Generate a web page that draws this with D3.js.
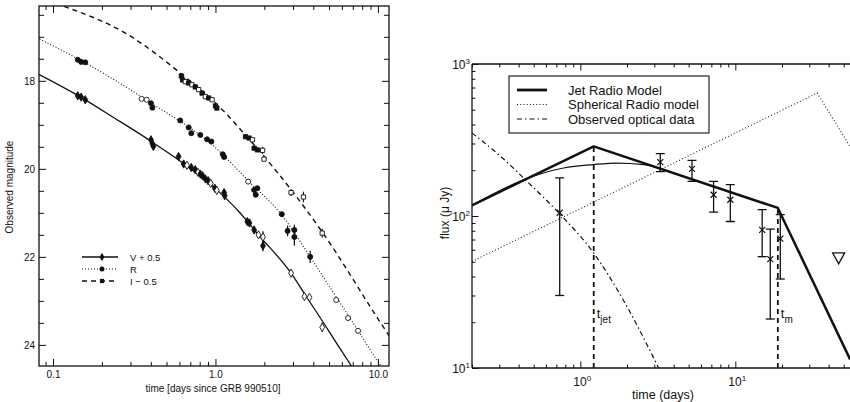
<!DOCTYPE html>
<html>
<head>
<meta charset="utf-8">
<title>GRB 990510 light curves</title>
<script src="https://d3js.org/d3.v7.min.js"></script>
<style>
  body { margin: 0; background: #fff; }
  svg { font-family: "Liberation Sans", Arial, Helvetica, sans-serif; }
  .frame { fill: none; stroke: #111; stroke-width: 1.3px; }
  .tick line { stroke: #111; stroke-width: 1px; }
  .tick text { fill: #111; }
</style>
</head>
<body>
<script>
// ---------- left panel data: optical light curves (t in days, magnitude) ----------
// [t, mag, errorbar half-length, open marker?]
var vPoints = [
  [0.142,18.34,0,0],[0.149,18.37,0,0],[0.158,18.43,0,0],
  [0.401,19.34,0,0],[0.409,19.43,0,0],[0.415,19.49,0,0],
  [0.593,19.72,0,0],
  [0.637,19.89,0,0],[0.668,19.92,0,1],[0.710,19.97,0,0],[0.751,20.02,0,0],[0.781,20.08,0,1],
  [0.807,20.12,0,0],[0.834,20.16,0,0],[0.867,20.23,0,0],[0.901,20.27,0,0],[0.935,20.33,0,1],
  [0.991,20.44,0,0],[1.02,20.49,0,1],[1.13,20.54,0,0],[1.14,20.61,0,0],
  [1.57,21.20,0,0],[1.62,21.23,0,0],[1.73,21.39,0,0],[1.84,21.50,0,1],[1.96,21.55,0.13,1],[1.96,21.75,0.12,0],
  [2.92,22.37,0,1],[3.53,22.90,0,1],[3.79,22.92,0,1],[4.54,23.60,0.1,1]
];
var rPoints = [
  [0.142,17.52,0,0],[0.149,17.57,0,0],[0.158,17.58,0,0],
  [0.351,18.41,0,1],[0.377,18.43,0,1],[0.401,18.51,0,0],[0.409,18.61,0,0],
  [0.607,18.90,0,0],[0.684,19.06,0,0],[0.710,19.19,0,0],[0.807,19.23,0,0],[0.888,19.33,0,0],[0.944,19.38,0,0],
  [1.11,19.67,0,0],[1.13,19.73,0,0],
  [1.59,20.29,0,1],[1.73,20.48,0,0],[1.81,20.44,0,0],[1.77,20.59,0,0],
  [2.56,21.03,0,0],[2.78,21.41,0.12,0],[3.06,21.39,0.12,0],[3.06,21.55,0.2,0],
  [3.83,22.00,0.14,0],
  [5.54,22.98,0,1],[6.55,23.39,0,1],[7.55,23.68,0,1]
];
var iPoints = [
  [0.616,17.89,0,0],[0.628,17.98,0,0],[0.652,18.02,0,1],[0.684,18.05,0,0],[0.717,18.09,0,1],
  [0.751,18.14,0,0],[0.788,18.20,0,1],[0.827,18.28,0,0],[0.867,18.36,0,1],[0.909,18.39,0,0],
  [0.954,18.43,0,1],[1.00,18.57,0,0],[1.02,18.62,0,0],
  [1.53,19.27,0,0],[1.61,19.30,0,0],[1.69,19.34,0,1],[1.73,19.53,0,0],[1.81,19.57,0,0],
  [1.95,19.58,0.08,1],[1.99,19.78,0,1],
  [2.92,20.54,0.08,1],[3.48,20.64,0.12,1],[4.54,21.46,0.1,1]
];
// model curves
var vCurve = [[0.0796,17.83],[0.142,18.33],[0.24,18.85],[0.40,19.37],[0.62,19.85],[1.0,20.45],
  [1.4,20.98],[1.86,21.52],[2.92,22.37],[3.62,22.90],[4.59,23.48],[5.56,23.96],[6.87,24.48]];
var rCurve = [[0.0796,17.02],[0.142,17.50],[0.40,18.50],[1.0,19.52],[1.61,20.29],[2.56,21.05],
  [3.81,21.99],[5.56,22.92],[7.55,23.68],[10.0,24.38],[10.6,24.52]];
var iCurve = [[0.117,16.31],[0.289,16.95],[0.592,17.79],[1.18,18.77],[1.46,19.15],[2.25,19.95],
  [4.59,21.46],[10.1,23.43],[11.7,23.79]];
var leftLegend = ["V + 0.5", "R", "I \u2212 0.5"];
var leftXTicks = [0.1, 1, 10], leftXLabels = ["0.1", "1.0", "10.0"];
var leftYTicks = [18, 20, 22, 24];

// ---------- right panel data: radio flux (t in days, flux in microJy) ----------
var jetModel = [[0.2,117.5],[1.22,287],[18.8,113],[55,11.4]];
var jetSmooth = [[0.2,117.5],[0.43,173],[0.78,207],[1.22,218],[1.72,223],[2.56,218],[3.45,202]];
var spherical = [[0.2,50.2],[33.7,644],[55,287]];
var optical = [[0.2,351],[0.29,259],[0.476,161],[0.725,105],[1.22,57],[1.86,28.9],[3.2,10]];
// [t, flux, low, high]
var radioObs = [[0.736,105,30,178],[3.28,226,196,257],[5.25,204,169,232],[7.24,138,106,169],
  [9.28,128,92,161],[14.9,81,54,110],[16.8,52,21,82],[19.5,71,38.5,102]];
var upperLimit = [[46.4,53]];
var tJet = 1.22, tM = 18.8;
var rightLegend = ["Jet Radio Model", "Spherical Radio model", "Observed optical data"];

var width = 850, height = 402;
var svg = d3.select("body").append("svg").attr("width", width).attr("height", height);

// ================= LEFT PANEL =================
var xL = d3.scaleLog().domain([0.082, 11.7]).range([39, 389]);
var yL = d3.scaleLinear().domain([16.3, 24.48]).range([6, 366]);
var L = svg.append("g");

L.append("clipPath").attr("id", "clipL").append("rect")
  .attr("x", 39).attr("y", 6).attr("width", 350).attr("height", 360);

var xLminor = xL.ticks().filter(function(d) { return leftXTicks.indexOf(d) < 0; });
var yLall = d3.range(16.5, 24.5, 0.5);
var yLminor = yLall.filter(function(d) { return leftYTicks.indexOf(d) < 0; });

function strip(g) { g.select(".domain").remove(); }

L.append("g").attr("transform", "translate(0,366)")
  .call(d3.axisBottom(xL).tickValues(xLminor).tickSize(-4).tickFormat("")).call(strip);
L.append("g").attr("transform", "translate(0,366)")
  .call(d3.axisBottom(xL).tickValues(leftXTicks).tickSize(-7).tickPadding(5)
    .tickFormat(function(d, i) { return leftXLabels[i]; }))
  .call(strip).selectAll("text").style("font-size", "10px");
L.append("g").attr("transform", "translate(0,6)")
  .call(d3.axisTop(xL).tickValues(xLminor).tickSize(-4).tickFormat("")).call(strip);
L.append("g").attr("transform", "translate(0,6)")
  .call(d3.axisTop(xL).tickValues(leftXTicks).tickSize(-7).tickFormat("")).call(strip);

L.append("g").attr("transform", "translate(39,0)")
  .call(d3.axisLeft(yL).tickValues(yLminor).tickSize(-5).tickFormat("")).call(strip);
L.append("g").attr("transform", "translate(39,0)")
  .call(d3.axisLeft(yL).tickValues(leftYTicks).tickSize(-7).tickPadding(4))
  .call(strip).selectAll("text").style("font-size", "10px");
L.append("g").attr("transform", "translate(389,0)")
  .call(d3.axisRight(yL).tickValues(yLminor).tickSize(-5).tickFormat("")).call(strip);
L.append("g").attr("transform", "translate(389,0)")
  .call(d3.axisRight(yL).tickValues(leftYTicks).tickSize(-7).tickFormat("")).call(strip);

L.append("rect").attr("class", "frame").attr("x", 39).attr("y", 6).attr("width", 350).attr("height", 360);

L.append("text").attr("x", 213).attr("y", 392).attr("text-anchor", "middle")
  .style("font-size", "10px").attr("fill", "#111").text("time [days since GRB 990510]");
L.append("text").attr("transform", "translate(13,187) rotate(-90)").attr("text-anchor", "middle")
  .style("font-size", "10px").attr("fill", "#111").text("Observed magnitude");

var lineL = d3.line().x(function(d) { return xL(d[0]); }).y(function(d) { return yL(d[1]); })
  .curve(d3.curveMonotoneX);

var bands = [
  { pts: vPoints, curve: vCurve, dash: null, width: 1.3, sym: d3.symbolDiamond, size: 20 },
  { pts: rPoints, curve: rCurve, dash: "1,2", width: 1.1, sym: d3.symbolCircle, size: 20 },
  { pts: iPoints, curve: iCurve, dash: "5,4", width: 1.4, sym: d3.symbolSquare, size: 18 }
];

var plotL = L.append("g").attr("clip-path", "url(#clipL)");
bands.forEach(function(b) {
  plotL.append("path").attr("d", lineL(b.curve)).attr("fill", "none")
    .attr("stroke", "#111").attr("stroke-width", b.width).attr("stroke-dasharray", b.dash);
  plotL.selectAll(null).data(b.pts.filter(function(d) { return d[2] > 0; })).enter()
    .append("line")
    .attr("x1", function(d) { return xL(d[0]); }).attr("x2", function(d) { return xL(d[0]); })
    .attr("y1", function(d) { return yL(d[1] - d[2]); }).attr("y2", function(d) { return yL(d[1] + d[2]); })
    .attr("stroke", "#111").attr("stroke-width", 1.2);
  plotL.selectAll(null).data(b.pts).enter().append("path")
    .attr("transform", function(d) { return "translate(" + xL(d[0]) + "," + yL(d[1]) + ")"; })
    .attr("d", d3.symbol(b.sym, b.size))
    .attr("fill", function(d) { return d[3] ? "#fff" : "#111"; })
    .attr("stroke", "#111").attr("stroke-width", 0.9);
});

// left legend
bands.forEach(function(b, i) {
  var y = 257 + i * 12;
  L.append("line").attr("x1", 82).attr("x2", 118).attr("y1", y).attr("y2", y)
    .attr("stroke", "#111").attr("stroke-width", b.width).attr("stroke-dasharray", b.dash);
  L.append("path").attr("transform", "translate(102," + y + ")")
    .attr("d", d3.symbol(b.sym, b.size)).attr("fill", "#111");
  L.append("text").attr("x", 130).attr("y", y + 3.5).style("font-size", "9.5px")
    .attr("fill", "#111").text(leftLegend[i]);
});

// ================= RIGHT PANEL =================
var xR = d3.scaleLog().domain([0.2, 100]).range([472, 472 + 155 * Math.log10(500)]);
var yR = d3.scaleLog().domain([10, 1000]).range([368, 64]);
var R = svg.append("g");
var rx0 = 472, rx1 = 472 + 155 * Math.log10(500), ry0 = 64, ry1 = 368;

R.append("clipPath").attr("id", "clipR").append("rect")
  .attr("x", rx0).attr("y", ry0).attr("width", rx1 - rx0).attr("height", ry1 - ry0);

function isMajor(d) { return Math.abs(Math.log10(d) - Math.round(Math.log10(d))) < 1e-9; }
var xRt = xR.ticks(), yRt = yR.ticks();
var xRmaj = xRt.filter(isMajor), xRmin = xRt.filter(function(d) { return !isMajor(d); });
var yRmaj = yRt.filter(isMajor), yRmin = yRt.filter(function(d) { return !isMajor(d); });

R.append("g").attr("transform", "translate(0," + ry1 + ")")
  .call(d3.axisBottom(xR).tickValues(xRmin).tickSize(-3.5).tickFormat("")).call(strip);
R.append("g").attr("transform", "translate(0," + ry1 + ")")
  .call(d3.axisBottom(xR).tickValues(xRmaj).tickSize(-6.5).tickFormat("")).call(strip);
R.append("g").attr("transform", "translate(0," + ry0 + ")")
  .call(d3.axisTop(xR).tickValues(xRmin).tickSize(-3.5).tickFormat("")).call(strip);
R.append("g").attr("transform", "translate(0," + ry0 + ")")
  .call(d3.axisTop(xR).tickValues(xRmaj).tickSize(-6.5).tickFormat("")).call(strip);
R.append("g").attr("transform", "translate(" + rx0 + ",0)")
  .call(d3.axisLeft(yR).tickValues(yRmin).tickSize(-3.5).tickFormat("")).call(strip);
R.append("g").attr("transform", "translate(" + rx0 + ",0)")
  .call(d3.axisLeft(yR).tickValues(yRmaj).tickSize(-6.5).tickFormat("")).call(strip);

// power-of-ten labels
function powLabel(g, x, y, anchor, exp) {
  var t = g.append("text").attr("x", x).attr("y", y).attr("text-anchor", anchor)
    .style("font-size", "12px").attr("fill", "#111");
  t.append("tspan").text("10");
  t.append("tspan").attr("dy", -5).style("font-size", "8px").text(exp);
}
xRmaj.forEach(function(d) {
  if (xR(d) < width) powLabel(R, xR(d) - 7, 386, "start", Math.round(Math.log10(d)));
});
yRmaj.forEach(function(d) { powLabel(R, rx0 - 2, yR(d) + 5, "end", Math.round(Math.log10(d))); });

R.append("line").attr("x1", rx0).attr("x2", rx1).attr("y1", ry0).attr("y2", ry0)
  .attr("stroke", "#111").attr("stroke-width", 1.3);
R.append("line").attr("x1", rx0).attr("x2", rx1).attr("y1", ry1).attr("y2", ry1)
  .attr("stroke", "#111").attr("stroke-width", 1.3);
R.append("line").attr("x1", rx0).attr("x2", rx0).attr("y1", ry0).attr("y2", ry1)
  .attr("stroke", "#111").attr("stroke-width", 1.3);

R.append("text").attr("x", 663).attr("y", 399).attr("text-anchor", "middle")
  .style("font-size", "12.5px").attr("fill", "#111").text("time (days)");
R.append("text").attr("transform", "translate(449,213) rotate(-90)").attr("text-anchor", "middle")
  .style("font-size", "12px").attr("fill", "#111").text("flux (\u03BC Jy)");

var plotR = R.append("g").attr("clip-path", "url(#clipR)");
var lineR = d3.line().x(function(d) { return xR(d[0]); }).y(function(d) { return yR(d[1]); });
var lineRs = d3.line().x(function(d) { return xR(d[0]); }).y(function(d) { return yR(d[1]); })
  .curve(d3.curveMonotoneX);

plotR.append("path").attr("d", lineR(spherical)).attr("fill", "none").attr("stroke", "#222")
  .attr("stroke-width", 1.1).attr("stroke-dasharray", "1,2.2");
plotR.append("path").attr("d", lineRs(optical)).attr("fill", "none").attr("stroke", "#111")
  .attr("stroke-width", 1.2).attr("stroke-dasharray", "5,3,1.5,3");
plotR.append("path").attr("d", lineRs(jetSmooth)).attr("fill", "none").attr("stroke", "#111")
  .attr("stroke-width", 1.2);
plotR.append("path").attr("d", lineR(jetModel)).attr("fill", "none").attr("stroke", "#111")
  .attr("stroke-width", 2.5).attr("stroke-linejoin", "round");

// break times
var breaks = [{ t: tJet, f: jetModel[1][1], sub: "jet" }, { t: tM, f: jetModel[2][1], sub: "m" }];
breaks.forEach(function(b) {
  plotR.append("line").attr("x1", xR(b.t)).attr("x2", xR(b.t)).attr("y1", yR(10)).attr("y2", yR(b.f))
    .attr("stroke", "#111").attr("stroke-width", 1.8).attr("stroke-dasharray", "5,4");
  var t = R.append("text").attr("x", xR(b.t) + 3).attr("y", 318).style("font-size", "13px").attr("fill", "#111");
  t.append("tspan").attr("fill", "#111").text("t");
  t.append("tspan").attr("dy", 5).attr("fill", "#111").style("font-size", "10px").text(b.sub);
});

// observations with error bars
var obs = plotR.selectAll("g.obs").data(radioObs).enter().append("g").attr("class", "obs");
obs.append("line").attr("x1", function(d) { return xR(d[0]); }).attr("x2", function(d) { return xR(d[0]); })
  .attr("y1", function(d) { return yR(d[2]); }).attr("y2", function(d) { return yR(d[3]); })
  .attr("stroke", "#111").attr("stroke-width", 1.3);
[2, 3].forEach(function(k) {
  obs.append("line").attr("x1", function(d) { return xR(d[0]) - 4.5; }).attr("x2", function(d) { return xR(d[0]) + 4.5; })
    .attr("y1", function(d) { return yR(d[k]); }).attr("y2", function(d) { return yR(d[k]); })
    .attr("stroke", "#111").attr("stroke-width", 1.3);
});
obs.append("path").attr("d", function(d) {
  var x = xR(d[0]), y = yR(d[1]), s = 3;
  return "M" + (x - s) + "," + (y - s) + "L" + (x + s) + "," + (y + s) +
         "M" + (x - s) + "," + (y + s) + "L" + (x + s) + "," + (y - s);
}).attr("stroke", "#111").attr("stroke-width", 1.2);

plotR.selectAll("path.ul").data(upperLimit).enter().append("path").attr("class", "ul")
  .attr("d", function(d) {
    var x = xR(d[0]), y = yR(d[1]);
    return "M" + (x - 6) + "," + (y - 5) + "L" + (x + 6) + "," + (y - 5) + "L" + x + "," + (y + 6) + "Z";
  }).attr("fill", "#fff").attr("stroke", "#111").attr("stroke-width", 1.3);

// right legend
var lg = R.append("g");
lg.append("rect").attr("x", 509).attr("y", 76).attr("width", 200).attr("height", 57)
  .attr("fill", "#fff").attr("stroke", "#111").attr("stroke-width", 1.1);
var lgStyles = [{ w: 2.8, dash: null }, { w: 1.1, dash: "1,2.2" }, { w: 1.2, dash: "5,3,1.5,3" }];
rightLegend.forEach(function(s, i) {
  var y = 90 + i * 14.5;
  lg.append("line").attr("x1", 517).attr("x2", 547).attr("y1", y).attr("y2", y)
    .attr("stroke", "#111").attr("stroke-width", lgStyles[i].w).attr("stroke-dasharray", lgStyles[i].dash);
  lg.append("text").attr("x", 568).attr("y", y + 4.5).style("font-size", "13px")
    .attr("fill", "#111").text(s);
});
</script>
</body>
</html>
